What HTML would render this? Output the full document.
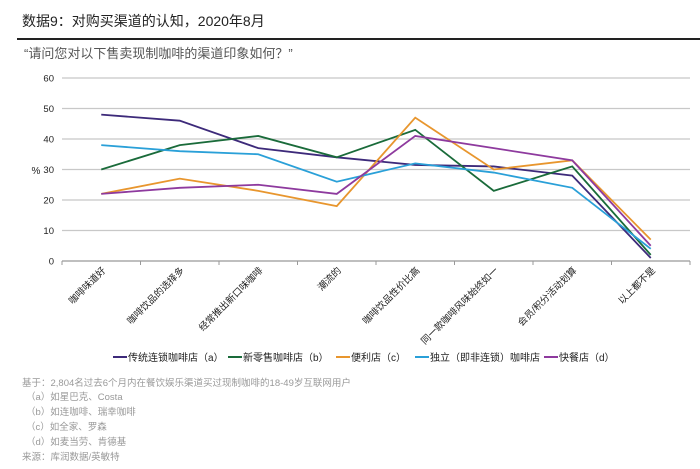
<!DOCTYPE html>
<html><head><meta charset="utf-8"><style>
body{margin:0;width:700px;height:469px;background:#fff;font-family:"Liberation Sans","Noto Sans CJK SC",sans-serif;overflow:hidden;position:relative}
.t{position:absolute;white-space:nowrap}
.fn{position:absolute;font-size:9.5px;color:#999;white-space:nowrap}
</style></head><body>
<div class="t" style="left:22px;top:11px;font-size:14px;color:#222">数据9：对购买渠道的认知，2020年8月</div>
<div style="position:absolute;left:17px;top:38px;width:683px;height:2px;background:#222"></div>
<div class="t" style="left:24px;top:43px;font-size:13px;color:#555">“请问您对以下售卖现制咖啡的渠道印象如何？”</div>
<svg id="chart" width="700" height="469" style="position:absolute;left:0;top:0"></svg>
<div class="fn" style="left:22px;top:375px">基于：2,804名过去6个月内在餐饮娱乐渠道买过现制咖啡的18-49岁互联网用户</div>
<div class="fn" style="left:26px;top:389px">（a）如星巴克、Costa</div>
<div class="fn" style="left:26px;top:404px">（b）如连咖啡、瑞幸咖啡</div>
<div class="fn" style="left:26px;top:419px">（c）如全家、罗森</div>
<div class="fn" style="left:26px;top:434px">（d）如麦当劳、肯德基</div>
<div class="fn" style="left:22px;top:449px">来源：库润数据/英敏特</div>
<script>
const categories=["咖啡味道好","咖啡饮品的选择多","经常推出新口味咖啡","潮流的","咖啡饮品性价比高","同一款咖啡风味始终如一","会员/积分活动划算","以上都不是"];
const seriesNames=["传统连锁咖啡店（a）","新零售咖啡店（b）","便利店（c）","独立（即非连锁）咖啡店","快餐店（d）"];
const seriesA=[48,46,37,34,31.5,31,28,1];
const seriesB=[30,38,41,34,43,23,31,2];
const seriesC=[22,27,23,18,47,30,33,7];
const seriesD=[38,36,35,26,32,29,24,4];
const seriesE=[22,24,25,22,41,37,33,5];
const yTicks=[0,10,20,30,40,50,60];
const colors=["#3d2a7a","#1a6b3a","#e8962e","#2aa0d8","#8e3a9e"];
const allSeries=[seriesA,seriesB,seriesC,seriesD,seriesE];
const svg=document.getElementById('chart');
const NS="http://www.w3.org/2000/svg";
const x0=62,x1=690,y0=261,y1=78;
const step=(x1-x0)/categories.length;
const xs=i=>x0+step*(i+0.5);
const ys=v=>y0-(v/60)*(y0-y1);
function mk(t,a){const e=document.createElementNS(NS,t);for(const k in a)e.setAttribute(k,a[k]);svg.appendChild(e);return e;}
yTicks.forEach(v=>{
  const g=mk('line',{x1:x0,x2:x1,y1:ys(v),y2:ys(v),stroke:v===0?'#999':'#c8c8c8','stroke-width':1.3});
  
  
  const t=mk('text',{x:x0-8,y:ys(v)+3.5,'text-anchor':'end','font-size':9.5,fill:'#222'});
  t.textContent=v;
  
  
});
const yl=mk('text',{x:36,y:174,'font-size':10,fill:'#222','text-anchor':'middle'});yl.textContent='%';


for(let i=0;i<=categories.length;i++){
  const tk=mk('line',{x1:x0+step*i,x2:x0+step*i,y1:y0,y2:y0+4,stroke:'#999'});
  
  
}
categories.forEach((c,i)=>{
  const x=xs(i)+5,y=y0+10;
  const t=mk('text',{x:x,y:y,'text-anchor':'end','font-size':9.5,fill:'#222',transform:`rotate(-45 ${x} ${y})`});
  t.textContent=c;
  
  
});
allSeries.forEach((s,k)=>{
  const p=mk('polyline',{points:s.map((v,i)=>xs(i)+','+ys(v)).join(' '),fill:'none',stroke:colors[k],'stroke-width':1.8});
  
  
});
const legX=[113,228,336,415,544];
seriesNames.forEach((n,k)=>{
  const l=mk('line',{x1:legX[k],x2:legX[k]+14,y1:357,y2:357,stroke:colors[k],'stroke-width':2});
  
  
  const t=mk('text',{x:legX[k]+15,y:361,'font-size':10,fill:'#222'});
  t.textContent=n;
  
  
});
</script>
</body></html>
